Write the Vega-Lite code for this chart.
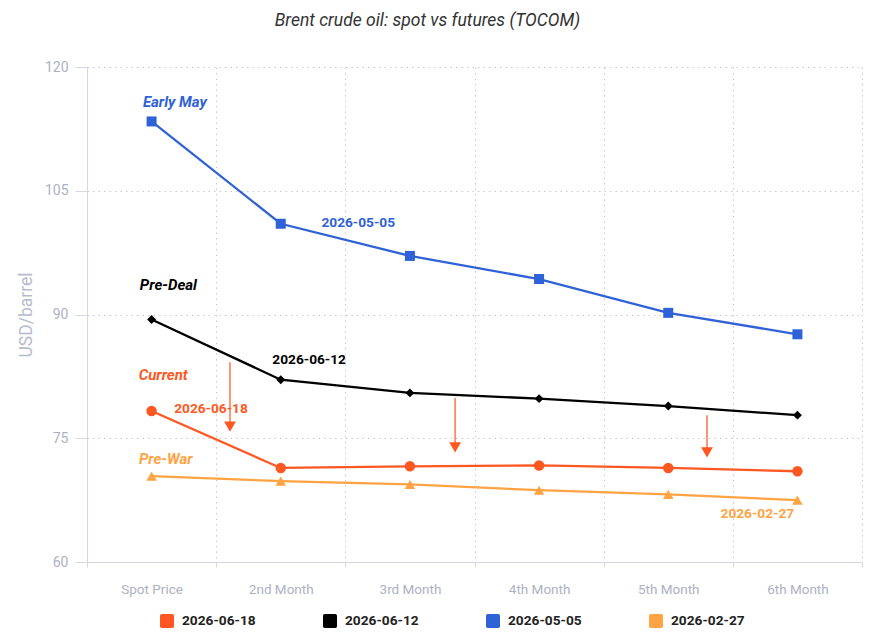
{
  "$schema": "https://vega.github.io/schema/vega-lite/v6.json",
  "width": 775,
  "height": 495,
  "autosize": {"type": "none"},
  "padding": {"left": 87, "top": 67, "right": 10, "bottom": 73},
  "background": "white",
  "config": {
    "font": "Roboto",
    "view": {"stroke": null},
    "axis": {
      "domainColor": "#d6d6e2",
      "tickColor": "#d6d6e2",
      "gridColor": "#c9c9d3",
      "gridDash": [1.5, 4],
      "gridWidth": 1,
      "labelColor": "#aeb1c4",
      "labelFont": "Roboto",
      "titleFont": "Roboto"
    }
  },
  "title": {
    "text": "Brent crude oil: spot vs futures (TOCOM)",
    "font": "Roboto",
    "fontStyle": "italic",
    "fontWeight": "normal",
    "fontSize": 17.5,
    "color": "#333333",
    "anchor": "middle",
    "frame": "group",
    "baseline": "alphabetic",
    "offset": 17,
    "dx": -47
  },
  "datasets": {
    "curves": [
      {"series": "2026-06-18", "contract": "Spot Price", "pos": 0, "usd": 78.3},
      {"series": "2026-06-18", "contract": "2nd Month", "pos": 1, "usd": 71.4},
      {"series": "2026-06-18", "contract": "3rd Month", "pos": 2, "usd": 71.6},
      {"series": "2026-06-18", "contract": "4th Month", "pos": 3, "usd": 71.7},
      {"series": "2026-06-18", "contract": "5th Month", "pos": 4, "usd": 71.4},
      {"series": "2026-06-18", "contract": "6th Month", "pos": 5, "usd": 71.0},
      {"series": "2026-06-12", "contract": "Spot Price", "pos": 0, "usd": 89.4},
      {"series": "2026-06-12", "contract": "2nd Month", "pos": 1, "usd": 82.1},
      {"series": "2026-06-12", "contract": "3rd Month", "pos": 2, "usd": 80.5},
      {"series": "2026-06-12", "contract": "4th Month", "pos": 3, "usd": 79.8},
      {"series": "2026-06-12", "contract": "5th Month", "pos": 4, "usd": 78.9},
      {"series": "2026-06-12", "contract": "6th Month", "pos": 5, "usd": 77.8},
      {"series": "2026-05-05", "contract": "Spot Price", "pos": 0, "usd": 113.4},
      {"series": "2026-05-05", "contract": "2nd Month", "pos": 1, "usd": 101.0},
      {"series": "2026-05-05", "contract": "3rd Month", "pos": 2, "usd": 97.1},
      {"series": "2026-05-05", "contract": "4th Month", "pos": 3, "usd": 94.3},
      {"series": "2026-05-05", "contract": "5th Month", "pos": 4, "usd": 90.2},
      {"series": "2026-05-05", "contract": "6th Month", "pos": 5, "usd": 87.6},
      {"series": "2026-02-27", "contract": "Spot Price", "pos": 0, "usd": 70.4},
      {"series": "2026-02-27", "contract": "2nd Month", "pos": 1, "usd": 69.8},
      {"series": "2026-02-27", "contract": "3rd Month", "pos": 2, "usd": 69.4},
      {"series": "2026-02-27", "contract": "4th Month", "pos": 3, "usd": 68.7},
      {"series": "2026-02-27", "contract": "5th Month", "pos": 4, "usd": 68.2},
      {"series": "2026-02-27", "contract": "6th Month", "pos": 5, "usd": 67.5}
    ],
    "names": [
      {"series": "2026-05-05", "label": "Early May", "pos": 0.18, "usd": 115.8},
      {"series": "2026-06-12", "label": "Pre-Deal", "pos": 0.13, "usd": 93.6},
      {"series": "2026-06-18", "label": "Current", "pos": 0.09, "usd": 82.7},
      {"series": "2026-02-27", "label": "Pre-War", "pos": 0.11, "usd": 72.5}
    ],
    "dates": [
      {"series": "2026-05-05", "label": "2026-05-05", "pos": 1.6, "usd": 101.1},
      {"series": "2026-06-12", "label": "2026-06-12", "pos": 1.22, "usd": 84.5},
      {"series": "2026-06-18", "label": "2026-06-18", "pos": 0.46, "usd": 78.5},
      {"series": "2026-02-27", "label": "2026-02-27", "pos": 4.69, "usd": 65.8}
    ],
    "arrows": [
      {"pos": 0.607, "usd": 84.2, "usd2": 76.8, "head": 76.4},
      {"pos": 2.35, "usd": 79.9, "usd2": 74.3, "head": 73.9},
      {"pos": 4.3, "usd": 77.8, "usd2": 73.7, "head": 73.3}
    ]
  },
  "encoding": {
    "x": {
      "field": "pos",
      "type": "quantitative",
      "scale": {"domain": [-0.5, 5.5], "nice": false, "zero": false},
      "axis": {
        "title": null,
        "values": [-0.5, 0.5, 1.5, 2.5, 3.5, 4.5, 5.5],
        "labelExpr": "['Spot Price','2nd Month','3rd Month','4th Month','5th Month','6th Month',''][round(datum.value + 0.5)]",
        "labelOffset": 64.6,
        "labelFontSize": 13.5,
        "labelPadding": 22,
        "labelBaseline": "middle",
        "tickSize": 5,
        "grid": true,
        "labelAlign": "center"
      }
    },
    "y": {
      "field": "usd",
      "type": "quantitative",
      "scale": {"domain": [60, 120], "nice": false, "zero": false},
      "axis": {
        "title": "USD/barrel",
        "titleColor": "#b9bccd",
        "titleFontSize": 17.5,
        "titleFontWeight": "normal",
        "titlePadding": 9,
        "values": [60, 75, 90, 105, 120],
        "labelFontSize": 14,
        "labelPadding": 7,
        "tickSize": 12,
        "grid": true
      }
    }
  },
  "layer": [
    {
      "data": {"values": [{}]},
      "mark": {"type": "rule", "color": "#d6d6e2", "strokeWidth": 1},
      "encoding": {"x": {"datum": 5.5}, "y": {"datum": 60}, "y2": {"datum": 120}}
    },
    {
      "data": {"name": "arrows"},
      "mark": {"type": "rule", "color": "#ff8a65", "strokeWidth": 1.8},
      "encoding": {"y2": {"field": "usd2"}}
    },
    {
      "data": {"name": "arrows"},
      "mark": {"type": "point", "shape": "triangle-down", "filled": true, "opacity": 1, "color": "#ff5722", "size": 140},
      "encoding": {"y": {"field": "head", "type": "quantitative"}}
    },
    {
      "data": {"name": "curves"},
      "mark": {"type": "line", "strokeWidth": 2.3},
      "encoding": {
        "color": {
          "field": "series",
          "type": "nominal",
          "scale": {
            "domain": ["2026-06-18", "2026-06-12", "2026-05-05", "2026-02-27"],
            "range": ["#ff5722", "#000000", "#2f62d6", "#ffa343"]
          },
          "legend": {
            "title": null,
            "orient": "none",
            "legendX": 73,
            "legendY": 547,
            "direction": "horizontal",
            "columns": 4,
            "columnPadding": 67,
            "padding": 0,
            "symbolType": "M-0.75,-1H0.75Q1,-1 1,-0.75V0.75Q1,1 0.75,1H-0.75Q-1,1 -1,0.75V-0.75Q-1,-1 -0.75,-1Z",
            "symbolSize": 196,
            "symbolStrokeWidth": 0,
            "symbolOpacity": 1,
            "labelFont": "Roboto",
            "labelFontWeight": "bold",
            "labelFontSize": 13.7,
            "labelColor": "#222222",
            "labelOffset": 8
          }
        }
      }
    },
    {
      "data": {"name": "curves"},
      "transform": [{"filter": "datum.series === '2026-06-18'"}],
      "mark": {"type": "point", "shape": "circle", "size": 110, "filled": true, "opacity": 1},
      "encoding": {"color": {"field": "series", "type": "nominal"}}
    },
    {
      "data": {"name": "curves"},
      "transform": [{"filter": "datum.series === '2026-06-12'"}],
      "mark": {"type": "point", "shape": "diamond", "size": 80, "filled": true, "opacity": 1},
      "encoding": {"color": {"field": "series", "type": "nominal"}}
    },
    {
      "data": {"name": "curves"},
      "transform": [{"filter": "datum.series === '2026-05-05'"}],
      "mark": {"type": "point", "shape": "square", "size": 100, "filled": true, "opacity": 1},
      "encoding": {"color": {"field": "series", "type": "nominal"}}
    },
    {
      "data": {"name": "curves"},
      "transform": [{"filter": "datum.series === '2026-02-27'"}],
      "mark": {"type": "point", "shape": "triangle-up", "size": 110, "filled": true, "opacity": 1},
      "encoding": {"color": {"field": "series", "type": "nominal"}}
    },
    {
      "data": {"name": "names"},
      "mark": {"type": "text", "font": "Roboto", "fontStyle": "italic", "fontWeight": "bold", "fontSize": 15, "align": "center", "baseline": "middle"},
      "encoding": {
        "text": {"field": "label"},
        "color": {"field": "series", "type": "nominal"}
      }
    },
    {
      "data": {"name": "dates"},
      "mark": {"type": "text", "font": "Roboto", "fontWeight": "bold", "fontSize": 13.7, "align": "center", "baseline": "middle"},
      "encoding": {
        "text": {"field": "label"},
        "color": {"field": "series", "type": "nominal"}
      }
    }
  ]
}
